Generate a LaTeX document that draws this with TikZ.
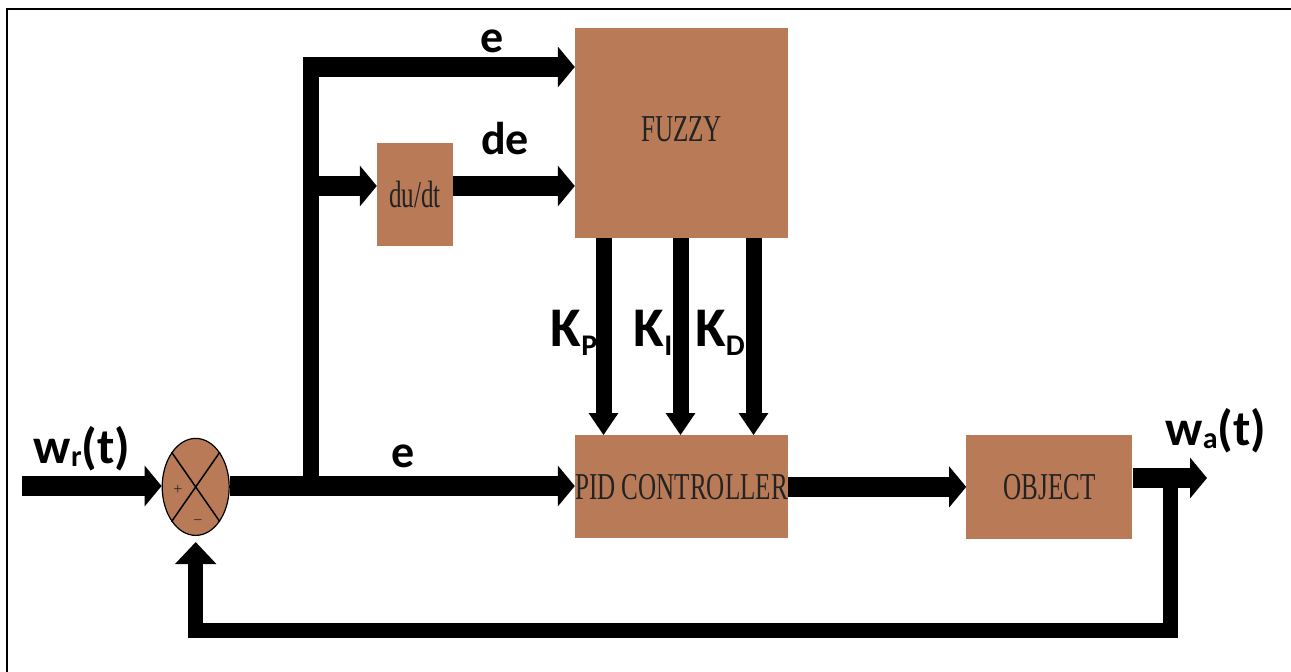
\documentclass[tikz,border=0pt]{standalone}
\usepackage{fontspec}
\usepackage{graphicx}
\setmainfont{Liberation Serif}
\newfontfamily\labfont{Carlito}
\usetikzlibrary{shapes.geometric,arrows.meta,positioning,calc}
\definecolor{boxbrown}{RGB}{185,122,87}
\definecolor{boxtext}{RGB}{35,35,35}
\newcommand{\narrow}[1]{\scalebox{0.66}[1]{#1}}
\newcommand{\subl}[3][-6pt]{#2\raisebox{#1}{\fontsize{30pt}{30pt}\selectfont #3}}

\begin{document}
\begin{tikzpicture}[
    x=1pt, y=-1pt,
    block/.style={rectangle, fill=boxbrown, inner sep=0pt, text=boxtext, font=\fontsize{38pt}{38pt}\selectfont},
    sumop/.style={draw, ellipse, line width=1.2pt, fill=boxbrown, minimum width=67pt, minimum height=97pt, inner sep=0pt},
    sig/.style={line width=20pt, -{Triangle[width=40pt,length=17pt]}},
    karrow/.style={line width=16pt, -{Triangle[width=28pt,length=22pt]}},
    fbline/.style={line width=15pt, line join=miter, -{Triangle[width=40pt,length=22pt]}},
    lbl/.style={inner sep=0pt, font=\labfont\bfseries\fontsize{46pt}{46pt}\selectfont},
    klbl/.style={lbl, font=\labfont\bfseries\fontsize{56pt}{56pt}\selectfont},
    wlbl/.style={lbl, font=\labfont\bfseries\fontsize{50pt}{50pt}\selectfont}
]
    \useasboundingbox (0,0) rectangle (1291,672);
    \draw[line width=2.5pt] (7,672) -- (7,9) -- (1291,9);

    \node[block, minimum width=213pt, minimum height=210pt] (fuzzy) at (681.5,133) {\narrow{\raisebox{7pt}{FUZZY}}};
    \node[block, minimum width=213pt, minimum height=103pt, below=197pt of fuzzy] (pid) {\narrow{PID CONTROLLER}};
    \node[block, minimum width=166pt, minimum height=104pt, right=178pt of pid] (object) {\narrow{OBJECT}};
    \node[block, minimum width=76pt, minimum height=103pt] (dudt) at (415,194.5) {\narrow{du/dt}};
    \node[sumop, left=345pt of pid] (sum) {};
    \draw[line width=1.5pt] (sum.north west) -- (sum.south east);
    \draw[line width=1.5pt] (sum.north east) -- (sum.south west);
    \node[text=boxtext, font=\fontsize{16pt}{16pt}\selectfont] (plus) at (178,490) {+};
    \node[text=boxtext, font=\fontsize{16pt}{16pt}\selectfont] (minus) at (198,523) {−};

    \coordinate (in) at (22,486);
    \coordinate (split) at (311,486);
    \coordinate (top) at (311,67);
    \coordinate (mid) at (311,186);
    \coordinate (fbk) at (1170,478);
    \coordinate (out) at (1207,478);

    \draw[sig] (in) -- (in -| sum.west);
    \draw[sig] (sum.east |- split) -- (split -| pid.west);
    \draw[line width=16pt] (split) -- ($(top)+(0,-10)$);
    \draw[sig] (top) -- (top -| fuzzy.west);
    \draw[sig] (mid) -- (mid -| dudt.west);
    \draw[sig] (dudt.east |- mid) -- (mid -| fuzzy.west);
    \foreach \dx in {-78,-1,72}
        \draw[karrow] ([xshift=\dx pt]fuzzy.south) -- ([xshift=\dx pt]pid.north);
    \draw[sig] (pid) -- (object);
    \draw[sig] (object.east |- out) -- (out);
    \draw[fbline, shorten >=6pt] (fbk) |- (sum.south |- 0,630) -- (sum.south);

    \node[lbl] (eTop) at (492,41) {e};
    \node[lbl] (deLbl) at (505,139) {de};
    \node[lbl] (eBot) at (403,456) {e};
    \node[klbl] (kp) at (574,333) {\subl[-9pt]{K}{P}};
    \node[klbl] (ki) at (653,333) {\subl[-9pt]{K}{I}};
    \node[klbl] (kd) at (720,333) {\subl[-9pt]{K}{D}};
    \node[wlbl] (wr) at (82,449) {\subl[-3pt]{w}{r}(t)};
    \node[wlbl] (wa) at (1216,431) {\subl[-3pt]{w}{a}(t)};
\end{tikzpicture}
\end{document}
